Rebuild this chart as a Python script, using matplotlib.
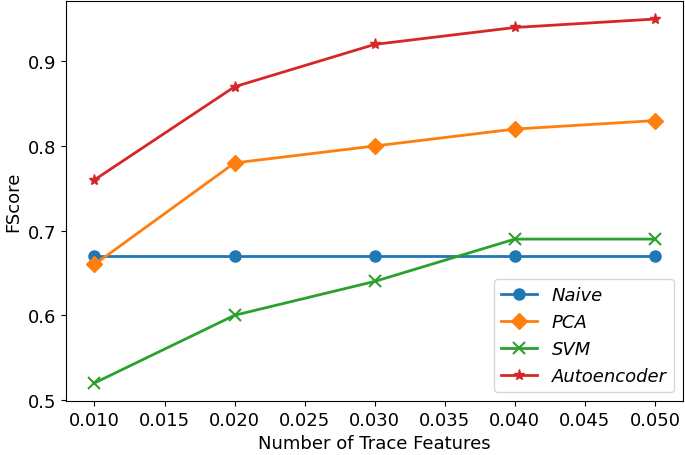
import numpy as np
import matplotlib
matplotlib.use("Agg")
import matplotlib.pyplot as plt

# trace feature fractions
features = [0.01, 0.02, 0.03, 0.04, 0.05]

naive = [0.67, 0.67, 0.67, 0.67, 0.67]
pca = [0.66, 0.78, 0.80, 0.82, 0.83]
svm = [0.52, 0.60, 0.64, 0.69, 0.69]
autoencoder = [0.76, 0.87, 0.92, 0.94, 0.95]

plt.rcParams['font.size'] = 13

fig, ax = plt.subplots(figsize=(6.85, 4.56), dpi=100)
ax.plot(features, naive, marker='o', markersize=8, linewidth=2, label='Naive')
ax.plot(features, pca, marker='D', markersize=8, linewidth=2, label='PCA')
ax.plot(features, svm, marker='x', markersize=8, markeredgewidth=1.5, linewidth=2, label='SVM')
ax.plot(features, autoencoder, marker='*', markersize=8, linewidth=2, label='Autoencoder')

ax.set_xticks([0.010, 0.015, 0.020, 0.025, 0.030, 0.035, 0.040, 0.045, 0.050])
ax.set_xticklabels(['0.010', '0.015', '0.020', '0.025', '0.030', '0.035', '0.040', '0.045', '0.050'])
ax.set_yticks([0.5, 0.6, 0.7, 0.8, 0.9])
ax.set_xlabel('Number of Trace Features')
ax.set_ylabel('FScore')
ax.legend(loc='lower right', prop={'style': 'italic', 'size': 13})

plt.subplots_adjust(left=0.097, right=0.997, top=0.996, bottom=0.118)
plt.savefig('out.png')
